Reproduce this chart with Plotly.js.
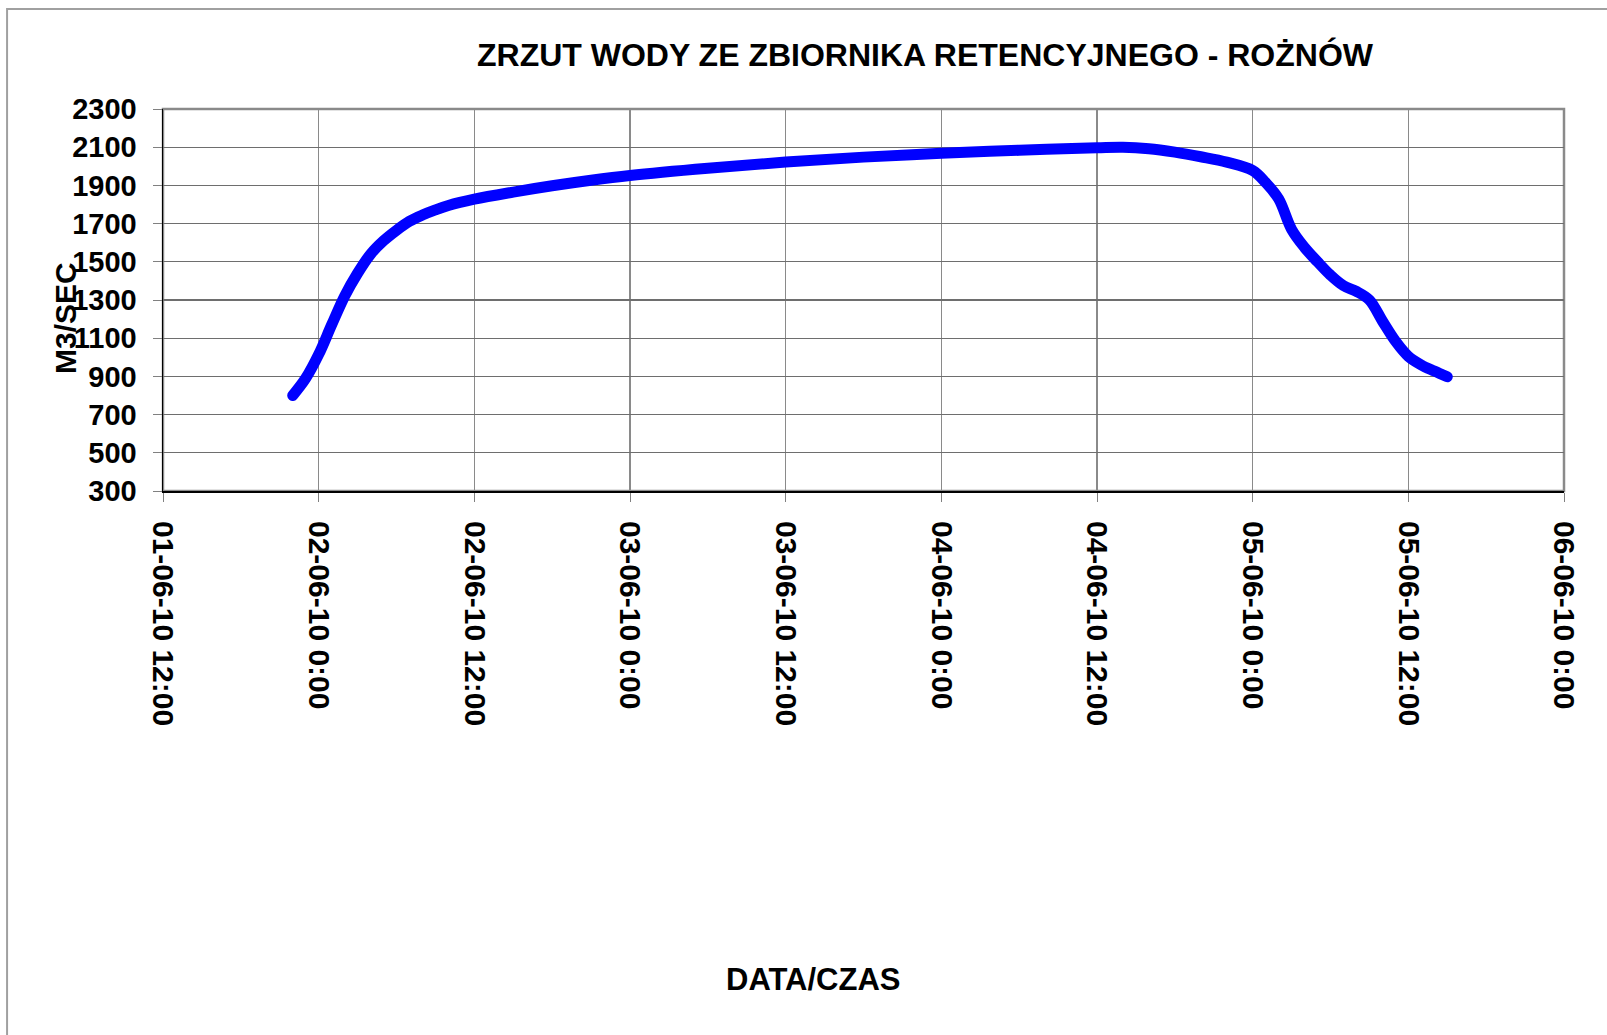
<!DOCTYPE html>
<html>
<head>
<meta charset="utf-8">
<script src="https://cdn.plot.ly/plotly-3.0.1.min.js"></script>
<style>
  html, body { margin: 0; padding: 0; background: #ffffff; }
  #chart { width: 1607px; height: 1035px; }
  #chart .scatterlayer .js-line { stroke-linecap: round !important; stroke-linejoin: round !important; }
</style>
</head>
<body>
<div id="chart"></div>
<script>
// ---- data ----
const times = [
  '2010-06-01 22:00', '2010-06-01 23:00',
  '2010-06-02 00:00', '2010-06-02 01:00', '2010-06-02 02:00', '2010-06-02 03:00',
  '2010-06-02 04:00', '2010-06-02 05:00', '2010-06-02 06:00', '2010-06-02 07:00',
  '2010-06-02 08:00', '2010-06-02 09:00', '2010-06-02 10:00', '2010-06-02 12:00',
  '2010-06-02 15:00', '2010-06-02 18:00', '2010-06-02 21:00',
  '2010-06-03 00:00', '2010-06-03 06:00', '2010-06-03 12:00', '2010-06-03 18:00',
  '2010-06-04 00:00', '2010-06-04 06:00', '2010-06-04 12:00', '2010-06-04 14:00',
  '2010-06-04 16:00', '2010-06-04 18:00', '2010-06-04 20:00', '2010-06-04 22:00',
  '2010-06-05 00:00', '2010-06-05 01:00', '2010-06-05 02:00', '2010-06-05 03:00',
  '2010-06-05 04:00', '2010-06-05 05:00', '2010-06-05 06:00', '2010-06-05 07:00',
  '2010-06-05 08:00', '2010-06-05 09:00', '2010-06-05 10:00', '2010-06-05 11:00',
  '2010-06-05 12:00', '2010-06-05 13:00', '2010-06-05 14:00', '2010-06-05 15:00'
];
const flow = [
  800, 890,
  1015, 1170, 1320, 1440,
  1540, 1610, 1665, 1712,
  1745, 1772, 1795, 1828,
  1865, 1898, 1927,
  1952, 1990, 2022, 2048,
  2068, 2084, 2097, 2100,
  2092, 2074, 2050, 2022,
  1978, 1915, 1830, 1670,
  1575, 1500, 1430, 1375,
  1345, 1300, 1190, 1085,
  1005, 960, 928, 898
];
const tickDates = [
  '2010-06-01 12:00', '2010-06-02 00:00', '2010-06-02 12:00', '2010-06-03 00:00',
  '2010-06-03 12:00', '2010-06-04 00:00', '2010-06-04 12:00', '2010-06-05 00:00',
  '2010-06-05 12:00', '2010-06-06 00:00'
];
const tickLabels = [
  '01-06-10 12:00', '02-06-10 0:00', '02-06-10 12:00', '03-06-10 0:00',
  '03-06-10 12:00', '04-06-10 0:00', '04-06-10 12:00', '05-06-10 0:00',
  '05-06-10 12:00', '06-06-10 0:00'
];
const yRange = [300, 2300];
const titleText = 'ZRZUT WODY ZE ZBIORNIKA RETENCYJNEGO - ROŻNÓW';
const xTitle = 'DATA/CZAS';
const yTitle = 'M3/SEC';

// ---- chart ----
const FONT = 'Liberation Sans, Arial, sans-serif';
const boldFont = (s) => ({ family: FONT, size: s, color: '#000000', weight: 'bold' });

const trace = {
  x: times,
  y: flow,
  type: 'scatter',
  mode: 'lines',
  line: { color: '#0000ff', width: 11, shape: 'spline', smoothing: 1 },
  hoverinfo: 'skip'
};

const layout = {
  width: 1607,
  height: 1035,
  margin: { l: 163, r: 43, t: 109, b: 544, pad: 0 },
  paper_bgcolor: '#ffffff',
  plot_bgcolor: '#ffffff',
  showlegend: false,
  title: {
    text: titleText,
    font: boldFont(32),
    xref: 'container', yref: 'container',
    x: 0.5756, xanchor: 'center',
    y: 0.947, yanchor: 'middle'
  },
  xaxis: {
    type: 'date',
    range: [tickDates[0], tickDates[tickDates.length - 1]],
    tickmode: 'array',
    tickvals: tickDates,
    ticktext: tickLabels,
    tickangle: 90,
    tickfont: boldFont(30),
    ticks: 'outside',
    ticklen: 9,
    tickwidth: 1,
    tickcolor: '#808080',
    ticklabelstandoff: 13,
    showgrid: true,
    gridcolor: '#8a8a8a',
    gridwidth: 1.3,
    showline: true,
    linecolor: '#000000',
    linewidth: 2,
    zeroline: false,
    fixedrange: true
  },
  yaxis: {
    range: yRange,
    tickmode: 'linear',
    tick0: 300,
    dtick: 200,
    tickfont: boldFont(29),
    ticks: 'outside',
    ticklen: 9,
    tickwidth: 1,
    tickcolor: '#808080',
    ticklabelstandoff: 10,
    showgrid: true,
    gridcolor: '#6e6e6e',
    gridwidth: 1.3,
    showline: true,
    linecolor: '#000000',
    linewidth: 1.5,
    zeroline: false,
    fixedrange: true
  },
  shapes: [
    { type: 'rect', xref: 'paper', yref: 'paper', x0: 0, x1: 1, y0: 0, y1: 1,
      line: { color: '#8a8a8a', width: 2.5 }, layer: 'below' },
    { type: 'rect', xref: 'paper', yref: 'paper', x0: -0.1113, x1: 1.05, y0: -1.5, y1: 1.262,
      line: { color: '#a0a0a0', width: 2 }, fillcolor: 'rgba(0,0,0,0)', layer: 'below' }
  ],
  annotations: [
    { text: xTitle, xref: 'paper', yref: 'paper', x: 0.464, y: -1.28,
      xanchor: 'center', yanchor: 'middle', showarrow: false, font: boldFont(31) },
    { text: yTitle, xref: 'paper', yref: 'paper', x: -0.0692, y: 0.453,
      xanchor: 'center', yanchor: 'middle', textangle: -90, showarrow: false, font: boldFont(30) }
  ]
};

Plotly.newPlot('chart', [trace], layout, { staticPlot: true, displayModeBar: false });
</script>
</body>
</html>
